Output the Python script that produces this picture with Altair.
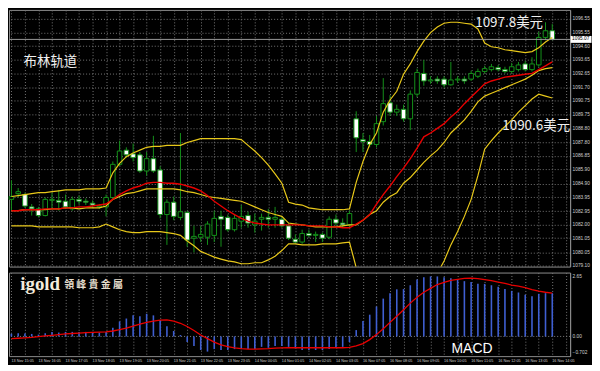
import altair as alt
import pandas as pd

# ---------------- data ----------------
OPEN = [1083.79, 1084.19, 1084.13, 1083.26, 1083.12, 1082.65, 1083.72, 1083.72, 1083.66, 1083.12,
        1083.79, 1083.66, 1083.52, 1083.26, 1083.26, 1083.92, 1086.26, 1087.26, 1087.00, 1086.93,
        1085.79, 1086.66, 1085.86, 1082.72, 1083.59, 1082.52, 1082.86, 1081.05, 1081.12, 1081.12,
        1081.25, 1082.59, 1082.52, 1081.65, 1082.25, 1082.65, 1081.99, 1082.39, 1082.52, 1082.39,
        1082.39, 1081.92, 1080.98, 1080.78, 1081.38, 1081.25, 1081.32, 1081.12, 1082.39, 1082.12,
        1081.99, 1089.47, 1088.00, 1087.87, 1087.66, 1089.27, 1090.60, 1089.94, 1090.14, 1089.47,
        1091.21, 1092.67, 1092.14, 1092.27, 1092.27, 1091.87, 1092.21, 1092.27, 1092.27, 1092.47,
        1092.81, 1092.94, 1093.08, 1092.94, 1092.81, 1092.94, 1093.34, 1092.94, 1093.27, 1095.21,
        1095.68]
HIGH = [1085.13, 1084.59, 1084.26, 1083.46, 1083.26, 1083.92, 1084.26, 1084.46, 1084.13, 1083.99,
        1084.06, 1083.86, 1083.72, 1083.46, 1084.13, 1086.46, 1087.93, 1087.46, 1087.73, 1087.13,
        1087.13, 1088.27, 1086.13, 1083.79, 1083.99, 1088.47, 1082.99, 1081.92, 1081.92, 1082.25,
        1082.99, 1082.99, 1082.72, 1082.72, 1083.39, 1082.92, 1082.79, 1082.79, 1083.12, 1083.26,
        1082.59, 1082.12, 1081.32, 1081.65, 1081.65, 1081.52, 1081.45, 1082.59, 1082.72, 1082.45,
        1082.99, 1090.00, 1088.47, 1088.33, 1089.67, 1092.34, 1091.14, 1090.47, 1090.47, 1091.47,
        1093.01, 1093.61, 1092.47, 1092.47, 1092.47, 1093.48, 1092.47, 1092.47, 1092.87, 1093.01,
        1093.21, 1093.34, 1093.27, 1093.14, 1093.41, 1093.48, 1093.54, 1093.81, 1095.61, 1096.28,
        1096.15]
LOW = [1082.99, 1083.92, 1083.19, 1082.65, 1082.52, 1082.59, 1083.12, 1082.99, 1083.12, 1082.99,
       1083.46, 1083.39, 1083.19, 1083.12, 1082.59, 1083.79, 1086.13, 1086.73, 1086.46, 1085.66,
       1085.46, 1085.66, 1082.45, 1080.58, 1082.32, 1082.32, 1080.45, 1080.05, 1080.78, 1080.58,
       1080.78, 1080.45, 1081.52, 1081.52, 1081.79, 1081.79, 1081.45, 1081.59, 1081.79, 1081.79,
       1081.79, 1080.92, 1080.65, 1080.65, 1081.12, 1080.78, 1080.78, 1080.98, 1081.92, 1081.79,
       1081.79, 1087.13, 1087.13, 1087.46, 1087.46, 1089.00, 1089.67, 1089.67, 1089.27, 1088.67,
       1091.00, 1091.80, 1091.94, 1091.94, 1091.67, 1091.80, 1092.01, 1091.94, 1092.14, 1092.34,
       1092.67, 1092.81, 1092.81, 1092.67, 1092.67, 1092.81, 1092.81, 1092.81, 1093.14, 1095.01,
       1095.01]
CLOSE = [1083.99, 1084.33, 1083.32, 1083.12, 1082.65, 1083.79, 1083.79, 1083.59, 1083.26, 1083.79,
         1083.66, 1083.59, 1083.39, 1083.32, 1083.92, 1086.26, 1087.20, 1086.93, 1086.73, 1085.79,
         1086.66, 1085.79, 1082.72, 1083.59, 1082.59, 1082.92, 1080.92, 1081.18, 1081.32, 1082.05,
         1082.45, 1082.39, 1081.65, 1082.45, 1082.59, 1082.12, 1082.25, 1082.52, 1082.39, 1082.52,
         1081.92, 1081.05, 1080.78, 1081.38, 1081.25, 1081.32, 1081.05, 1082.39, 1082.12, 1081.99,
         1082.79, 1088.13, 1087.87, 1087.66, 1089.13, 1090.54, 1089.94, 1090.14, 1089.47, 1091.21,
         1092.74, 1092.14, 1092.21, 1092.14, 1091.87, 1092.21, 1092.27, 1092.14, 1092.67, 1092.81,
         1093.01, 1093.14, 1092.94, 1092.81, 1093.14, 1093.27, 1092.94, 1093.34, 1095.21, 1095.68,
         1095.07]
BB_UPPER = [1083.99, 1084.06, 1084.13, 1084.19, 1084.26, 1084.26, 1084.33, 1084.39, 1084.46, 1084.46,
            1084.46, 1084.53, 1084.53, 1084.53, 1084.59, 1085.66, 1086.33, 1086.80, 1087.06, 1087.26,
            1087.46, 1087.53, 1087.53, 1087.60, 1087.60, 1087.60, 1087.80, 1087.93, 1088.07, 1088.07,
            1088.07, 1088.07, 1088.07, 1088.07, 1088.00, 1087.60, 1087.20, 1086.73, 1086.20, 1085.59,
            1084.93, 1083.59, 1083.46, 1083.39, 1083.19, 1083.12, 1083.06, 1083.06, 1083.06, 1083.06,
            1083.12, 1084.99, 1086.46, 1087.66, 1088.47, 1089.94, 1090.80, 1091.41, 1092.61, 1093.34,
            1094.21, 1094.95, 1095.55, 1095.95, 1096.21, 1096.28, 1096.28, 1096.21, 1096.15, 1095.81,
            1094.81, 1094.55, 1094.48, 1094.34, 1094.28, 1094.21, 1094.14, 1094.21, 1094.48, 1094.88,
            1095.21]
BB_MIDDLE = [1082.99, 1082.99, 1083.06, 1083.06, 1083.06, 1083.06, 1083.12, 1083.12, 1083.19, 1083.19,
             1083.12, 1083.19, 1083.19, 1083.19, 1083.32, 1083.79, 1083.99, 1084.19, 1084.26, 1084.39,
             1084.53, 1084.53, 1084.53, 1084.53, 1084.53, 1084.46, 1084.33, 1084.26, 1084.13, 1083.99,
             1083.92, 1083.86, 1083.79, 1083.72, 1083.66, 1083.46, 1083.26, 1083.06, 1082.86, 1082.72,
             1082.59, 1082.12, 1082.05, 1081.99, 1081.92, 1081.85, 1081.85, 1081.85, 1081.85, 1081.92,
             1081.99, 1081.99, 1082.32, 1082.72, 1082.99, 1083.59, 1083.99, 1084.26, 1084.93, 1085.33,
             1085.86, 1086.40, 1086.86, 1087.26, 1087.80, 1088.47, 1088.93, 1089.40, 1090.00, 1090.67,
             1091.07, 1091.27, 1091.47, 1091.67, 1091.87, 1092.07, 1092.27, 1092.54, 1092.87, 1093.01,
             1093.08]
BB_LOWER = [1081.92, 1081.92, 1081.92, 1081.92, 1081.85, 1081.85, 1081.85, 1081.85, 1081.85, 1081.85,
            1081.79, 1081.79, 1081.79, 1081.85, 1082.05, 1081.85, 1081.65, 1081.52, 1081.45, 1081.45,
            1081.52, 1081.52, 1081.52, 1081.45, 1081.38, 1081.25, 1080.85, 1080.52, 1080.12, 1079.92,
            1079.72, 1079.58, 1079.45, 1079.38, 1079.25, 1079.25, 1079.32, 1079.32, 1079.52, 1079.78,
            1080.18, 1080.65, 1080.65, 1080.58, 1080.58, 1080.58, 1080.65, 1080.65, 1080.65, 1080.72,
            1080.78, 1078.98, 1078.18, 1077.71, 1077.44, 1077.18, 1077.11, 1077.11, 1077.18, 1077.31,
            1077.51, 1077.78, 1078.11, 1078.58, 1079.45, 1080.58, 1081.52, 1082.59, 1083.79, 1085.46,
            1087.33, 1087.93, 1088.47, 1088.93, 1089.40, 1089.94, 1090.40, 1090.87, 1091.21, 1091.07,
            1090.94]
MA_RED = [1082.99, 1082.99, 1083.06, 1083.06, 1083.06, 1083.12, 1083.12, 1083.12, 1083.19, 1083.19,
          1083.26, 1083.26, 1083.32, 1083.39, 1083.46, 1083.79, 1084.13, 1084.39, 1084.59, 1084.73,
          1084.93, 1084.99, 1084.99, 1084.93, 1084.93, 1084.86, 1084.73, 1084.59, 1084.39, 1084.06,
          1083.66, 1083.32, 1082.99, 1082.72, 1082.45, 1082.25, 1082.12, 1082.05, 1081.99, 1081.99,
          1081.99, 1081.99, 1081.99, 1081.99, 1081.92, 1081.92, 1081.92, 1081.85, 1081.85, 1081.79,
          1081.79, 1082.05, 1082.32, 1082.72, 1083.46, 1084.13, 1084.73, 1085.39, 1085.99, 1086.66,
          1087.40, 1088.20, 1088.47, 1088.80, 1089.13, 1089.60, 1090.00, 1090.54, 1091.00, 1091.47,
          1091.94, 1092.14, 1092.27, 1092.41, 1092.47, 1092.54, 1092.61, 1092.67, 1092.94, 1093.21,
          1093.48]
MACD_HIST = [0.12, 0.14, 0.13, 0.11, 0.08, 0.14, 0.20, 0.17, 0.20, 0.20,
             0.20, 0.20, 0.20, 0.17, 0.20, 0.38, 0.66, 0.79, 0.93, 0.89,
             1.00, 0.93, 0.73, 0.45, 0.24, 0.06, -0.25, -0.42, -0.60, -0.67,
             -0.56, -0.60, -0.60, -0.56, -0.56, -0.56, -0.56, -0.46, -0.50, -0.42,
             -0.42, -0.46, -0.53, -0.60, -0.60, -0.60, -0.60, -0.56, -0.50, -0.46,
             -0.25, 0.28, 0.68, 0.96, 1.32, 1.67, 1.91, 2.08, 2.09, 2.26,
             2.51, 2.61, 2.65, 2.65, 2.61, 2.57, 2.50, 2.44, 2.40, 2.33,
             2.32, 2.26, 2.19, 2.09, 2.01, 1.94, 1.84, 1.77, 1.88, 1.91,
             1.91]
MACD_SIGNAL = [-0.10, -0.08, -0.06, -0.04, -0.01, 0.02, 0.05, 0.08, 0.11, 0.13,
               0.15, 0.17, 0.18, 0.19, 0.20, 0.24, 0.30, 0.37, 0.45, 0.54,
               0.62, 0.68, 0.72, 0.73, 0.68, 0.58, 0.44, 0.26, 0.06, -0.10,
               -0.25, -0.37, -0.45, -0.51, -0.54, -0.56, -0.56, -0.55, -0.54, -0.52,
               -0.51, -0.50, -0.50, -0.50, -0.50, -0.50, -0.50, -0.50, -0.50, -0.50,
               -0.48, -0.42, -0.32, -0.14, 0.08, 0.34, 0.62, 0.89, 1.18, 1.47,
               1.73, 1.95, 2.12, 2.29, 2.39, 2.47, 2.52, 2.56, 2.57, 2.55,
               2.51, 2.46, 2.40, 2.34, 2.27, 2.22, 2.15, 2.07, 2.00, 1.95,
               1.91]

PRICE_TICKS = [1096.55, 1095.55, 1094.60, 1093.65, 1092.65, 1091.70, 1090.75, 1089.75,
               1088.80, 1087.80, 1086.85, 1085.90, 1084.90, 1083.95, 1082.95, 1082.00,
               1081.05, 1080.05, 1079.10]
MACD_TICKS = [2.65, 0.0, -0.702]
CURRENT_PRICE = 1095.07

TIME_IDX = [0, 4, 8, 12, 16, 20, 24, 28, 32, 36, 40, 44, 48, 52, 56, 60, 64, 68, 72, 76, 80]
TIME_LABELS = ["13 Nov 15:05", "13 Nov 16:05", "13 Nov 17:05", "13 Nov 18:05", "13 Nov 19:05",
               "13 Nov 20:05", "13 Nov 21:05", "13 Nov 22:05", "13 Nov 23:05", "14 Nov 00:05",
               "14 Nov 01:05", "14 Nov 02:05", "14 Nov 03:05", "16 Nov 07:05", "16 Nov 08:05",
               "16 Nov 09:05", "16 Nov 10:05", "16 Nov 11:05", "16 Nov 12:05", "16 Nov 13:05",
               "16 Nov 14:05"]
GRID_IDX = list(range(0, 84, 2))

ANN_TEXT = ["布林轨道", "1097.8美元", "1090.6美元"]
ANN_I = [1.8, 68.6, 72.6]
ANN_P = [1093.45, 1096.2, 1088.95]

# ---------------- styling ----------------
W, H1, H2 = 564, 258, 84
GREEN = "#14901a"
YELLOW = "#e8c81a"
RED = "#e80000"
BLUE = "#3f5fd2"
GRID = "#767676"
FRAME = "#8c8c8c"
LABEL = "#d0d0d0"

df = pd.DataFrame({
    "i": list(range(len(OPEN))),
    "open": OPEN, "high": HIGH, "low": LOW, "close": CLOSE,
    "upper": BB_UPPER, "middle": BB_MIDDLE, "lower": BB_LOWER, "ma": MA_RED,
    "macd": MACD_HIST, "signal": MACD_SIGNAL,
})
tdf = pd.DataFrame({"i": TIME_IDX, "t": TIME_LABELS})
cur = pd.DataFrame({"p": [CURRENT_PRICE]})
ann = pd.DataFrame({"i": ANN_I, "p": ANN_P, "t": ANN_TEXT})

xscale = alt.Scale(domain=[-0.36, 82.64], nice=False, zero=False, padding=0)
yscale = alt.Scale(domain=[1079.05, 1097.15], nice=False, zero=False, padding=0)
mscale = alt.Scale(domain=[-0.87, 2.82], nice=False, zero=False, padding=0)

AX_X = alt.Axis(values=GRID_IDX, grid=True, gridColor=GRID, gridDash=[1, 2],
                labels=False, ticks=False, domain=False, title=None)
AX_P = alt.Axis(orient="right", values=PRICE_TICKS, format=".2f", grid=True,
                gridColor=GRID, gridDash=[1, 2], ticks=False, domainColor=FRAME,
                labelColor=LABEL, labelFontSize=4.8, labelFont="Liberation Sans",
                labelPadding=2, labelOverlap=False, title=None)
AX_M = alt.Axis(orient="right", values=MACD_TICKS, grid=False, ticks=False,
                labelExpr="datum.value === 0 ? '0.00' : format(datum.value, '.3~f')",
                domainColor=FRAME, labelColor=LABEL, labelFontSize=4.8,
                labelFont="Liberation Sans", labelPadding=2, labelOverlap=False, title=None)


def X(field="i"):
    return alt.X(f"{field}:Q", scale=xscale, axis=AX_X)


def YP(field):
    return alt.Y(f"{field}:Q", scale=yscale, axis=AX_P)


def YM(field):
    return alt.Y(f"{field}:Q", scale=mscale, axis=AX_M)


base = alt.Chart(df)

# ---------------- upper (price) panel ----------------
wicks = base.mark_rule(color=GREEN, strokeWidth=1).encode(x=X(), y=YP("low"), y2="high:Q")
bodies = base.mark_bar(size=4.6, stroke=GREEN, strokeWidth=1).encode(
    x=X(), y=YP("open"), y2="close:Q",
    fill=alt.condition("datum.close > datum.open", alt.value("black"), alt.value("white")),
)


def band(field, color, width=1.2):
    return base.mark_line(color=color, strokeWidth=width, clip=True).encode(x=X(), y=YP(field))


cur_line = alt.Chart(cur).mark_rule(color="#9a9a9a", strokeWidth=1).encode(y=YP("p"))
tag_box = alt.Chart(cur).mark_point(
    shape="M-1,-0.33L1,-0.33L1,0.33L-1,0.33Z", filled=True, fill="white",
    size=441, opacity=1, strokeWidth=0).encode(x=alt.value(W + 11), y=YP("p"))
tag_text = alt.Chart(cur).mark_text(align="left", baseline="middle", fontSize=4.8,
                                    color="black", font="Liberation Sans").encode(
    x=alt.value(W + 2), y=YP("p"), text=alt.Text("p:Q", format=".2f"))
ann_text = alt.Chart(ann).mark_text(align="left", baseline="middle", fontSize=13.5,
                                    color="#f0f0f0", font="Noto Sans CJK SC").encode(
    x=X(), y=YP("p"), text="t:N")

upper = alt.layer(
    wicks, bodies,
    band("upper", YELLOW), band("middle", YELLOW), band("lower", YELLOW), band("ma", RED, 1.4),
    cur_line, tag_box, tag_text, ann_text,
).properties(width=W, height=H1)

# ---------------- lower (MACD) panel ----------------
zero_line = alt.Chart(pd.DataFrame({"z": [0.0]})).mark_rule(
    color="#808080", strokeDash=[1, 2], strokeWidth=1).encode(y=YM("z"))
hist = base.mark_bar(size=1.6, color=BLUE).encode(x=X(), y=YM("macd"), y2=alt.datum(0))
signal = base.mark_line(color=RED, strokeWidth=1.3).encode(x=X(), y=YM("signal"))
time_text = alt.Chart(tdf).mark_text(align="left", baseline="middle", fontSize=3.8,
                                     color=LABEL, font="Liberation Sans").encode(
    x=X(), y=alt.value(H2 + 5), text="t:N")

macd_lbl = alt.Chart(pd.DataFrame({"i": [65.1], "v": [-0.55], "t": ["MACD"]})).mark_text(
    align="left", baseline="middle", fontSize=14, color="white", font="Liberation Sans").encode(
    x=X(), y=YM("v"), text="t:N")
logo1 = alt.Chart(pd.DataFrame({"i": [1.3], "v": [2.33], "t": ["igold"]})).mark_text(
    align="left", baseline="middle", fontSize=19, fontWeight="bold", color="#f4ecdc",
    font="Liberation Serif").encode(x=X(), y=YM("v"), text="t:N")
logo2 = alt.Chart(pd.DataFrame({"i": [7.8], "v": [2.28], "t": ["領 峰 貴 金 屬"]})).mark_text(
    align="left", baseline="middle", fontSize=10, fontWeight="bold", color="#e4dccc",
    font="Noto Sans CJK TC").encode(x=X(), y=YM("v"), text="t:N")

lower = alt.layer(zero_line, hist, signal, time_text, macd_lbl, logo1, logo2).properties(
    width=W, height=H2)

chart = alt.vconcat(upper, lower, spacing=3).properties(
    background="black", padding=0
).configure_view(stroke=FRAME, fill="black")

chart.save("out.html", embed_options={"renderer": "svg", "actions": False})
